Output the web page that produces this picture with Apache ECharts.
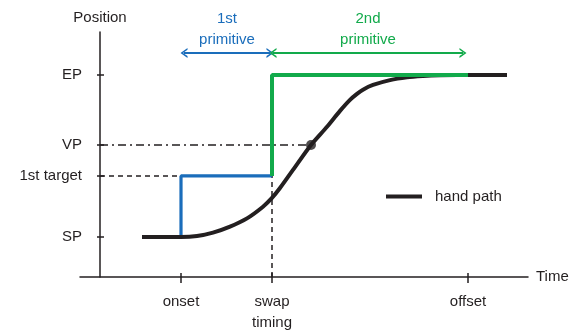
<!DOCTYPE html>
<html>
<head>
<meta charset="utf-8">
<script src="https://cdn.jsdelivr.net/npm/echarts@6/dist/echarts.min.js"></script>
<style>html,body{margin:0;padding:0;background:#fff}#c{width:576px;height:333px}</style>
</head>
<body>
<div id="c"></div>
<script>
// ---- data (arbitrary units: time 0 = position axis, position SP=0, EP=100)
const timeTicks = [81, 172, 368];
const timeLabels = ['onset', 'swap\ntiming', 'offset'];
const posTicks = [0, 37.7, 56.8, 100];
const posLabels = ['SP', '1st target', 'VP', 'EP'];
const SP = 0, TARGET = 37.7, VP = 56.8, EP = 100;
const ONSET = 81, SWAP = 172, OFFSET = 368;
const VP_TIME = 211;
const ARROW_LEVEL = 113.6;
const handT = [42, 81, 97, 113, 130, 147, 163, 172, 180, 193, 211, 227, 240, 250, 257, 263, 273, 290, 307, 323, 340, 357, 407];
const handP = [0, 0, 0.6, 2.7, 6.4, 11.5, 18.7, 24.1, 30.2, 41.4, 56.8, 68.0, 77.8, 84.6, 88.3, 90.9, 93.8, 96.8, 98.5, 99.3, 99.8, 100, 100];
const X_MIN = -20, X_MAX = 428, Y_MIN = -24.7, Y_MAX = 126.5;

const INK = '#231f20', BLUE = '#1a6dbb', GREEN = '#12aa4b';
const FONT = '"Liberation Sans", Arial, sans-serif';

const handData = handT.map((t, i) => [t, handP[i]]);
const chevron = 'path://M0,10 L5,0 L10,10 L8.2,10 L5,3.6 L1.8,10 Z';

const chart = echarts.init(document.getElementById('c'), null, {renderer: 'canvas'});
const axisLineStyle = {color: INK, width: 1.5};
chart.setOption({
  animation: false,
  textStyle: {fontFamily: FONT},
  grid: {left: 80, right: 48, top: 32, bottom: 56, containLabel: false, outerBoundsMode: 'none'},
  legend: {
    data: [{name: 'hand path', icon: 'rect'}], left: 381, top: 184, itemWidth: 36, itemHeight: 4,
    textStyle: {fontSize: 15, color: INK, fontFamily: FONT, padding: [0, 0, 0, 8]},
    selectedMode: false
  },
  xAxis: [{
    type: 'value', min: X_MIN, max: X_MAX,
    name: 'Time', nameLocation: 'end', nameGap: 8,
    nameTextStyle: {fontSize: 15, color: INK, fontFamily: FONT},
    axisLine: {onZero: false, lineStyle: axisLineStyle},
    axisTick: {customValues: timeTicks, length: 6, lineStyle: axisLineStyle},
    axisLabel: {customValues: timeTicks, margin: 14, fontSize: 15, color: INK, lineHeight: 21, fontFamily: FONT,
      formatter: v => timeLabels[timeTicks.indexOf(v)] ?? ''},
    splitLine: {show: false}
  }, {
    type: 'value', min: X_MIN, max: X_MAX, position: 'bottom',
    axisLine: {show: false, onZero: false},
    axisTick: {customValues: timeTicks, inside: true, length: 4, lineStyle: axisLineStyle},
    axisLabel: {show: false}, splitLine: {show: false}
  }],
  yAxis: [{
    type: 'value', min: Y_MIN, max: Y_MAX, position: 'left', offset: -20,
    name: 'Position', nameLocation: 'end', nameGap: 7,
    nameTextStyle: {fontSize: 15, color: INK, fontFamily: FONT, align: 'center'},
    axisLine: {onZero: false, lineStyle: axisLineStyle},
    axisTick: {customValues: posTicks, length: 3, lineStyle: axisLineStyle},
    axisLabel: {customValues: posTicks, margin: 18, fontSize: 15, color: INK, fontFamily: FONT,
      formatter: v => posLabels[posTicks.indexOf(v)] ?? ''},
    splitLine: {show: false}
  }, {
    type: 'value', min: Y_MIN, max: Y_MAX, position: 'left', offset: -20,
    axisLine: {show: false, onZero: false},
    axisTick: {customValues: posTicks, inside: true, length: 4, lineStyle: axisLineStyle},
    axisLabel: {show: false}, splitLine: {show: false}
  }],
  series: [
    {type: 'line', silent: true, symbol: 'none', z: 1,
     data: [[0, TARGET], [ONSET, TARGET]],
     lineStyle: {color: INK, width: 1.5, type: [5, 4]}},
    {type: 'line', silent: true, symbol: 'none', z: 1,
     data: [[SWAP, Y_MIN], [SWAP, TARGET]],
     lineStyle: {color: INK, width: 1.5, type: [5, 4]}},
    {type: 'line', silent: true, symbol: 'none', z: 1,
     data: [[0, VP], [VP_TIME, VP]],
     lineStyle: {color: INK, width: 1.5, type: [8, 4, 2, 4]}},
    {type: 'line', name: '1st primitive', silent: true, symbol: 'none', z: 2,
     data: [[ONSET, SP], [ONSET, TARGET], [SWAP, TARGET]],
     lineStyle: {color: BLUE, width: 3.2},
     markLine: {
       silent: true, animation: false, symbol: [chevron, chevron], symbolSize: [10, 7],
       lineStyle: {color: BLUE, width: 2, type: 'solid'},
       label: {show: true, position: 'insideMiddleTop', distance: 3, formatter: '1st\nprimitive',
         color: BLUE, fontSize: 15, lineHeight: 21, fontFamily: FONT},
       data: [[{coord: [ONSET + 3, ARROW_LEVEL]}, {coord: [SWAP - 2, ARROW_LEVEL]}]]
     }},
    {type: 'line', name: 'hand path', silent: true, symbol: 'none', z: 3,
     smooth: 0.3,
     data: handData,
     lineStyle: {color: INK, width: 4}, itemStyle: {color: INK}},
    {type: 'line', name: '2nd primitive', silent: true, symbol: 'none', z: 4,
     data: [[SWAP, TARGET], [SWAP, EP], [OFFSET, EP]],
     lineStyle: {color: GREEN, width: 4},
     markLine: {
       silent: true, animation: false, symbol: [chevron, chevron], symbolSize: [10, 7],
       lineStyle: {color: GREEN, width: 2, type: 'solid'},
       label: {show: true, position: 'insideMiddleTop', distance: 3, formatter: '2nd\nprimitive',
         color: GREEN, fontSize: 15, lineHeight: 21, fontFamily: FONT},
       data: [[{coord: [SWAP + 1, ARROW_LEVEL]}, {coord: [OFFSET - 5, ARROW_LEVEL]}]]
     }},
    {type: 'scatter', silent: true, z: 5, symbolSize: 10,
     data: [[VP_TIME, VP]], itemStyle: {color: INK}}
  ]
});
</script>
</body>
</html>
